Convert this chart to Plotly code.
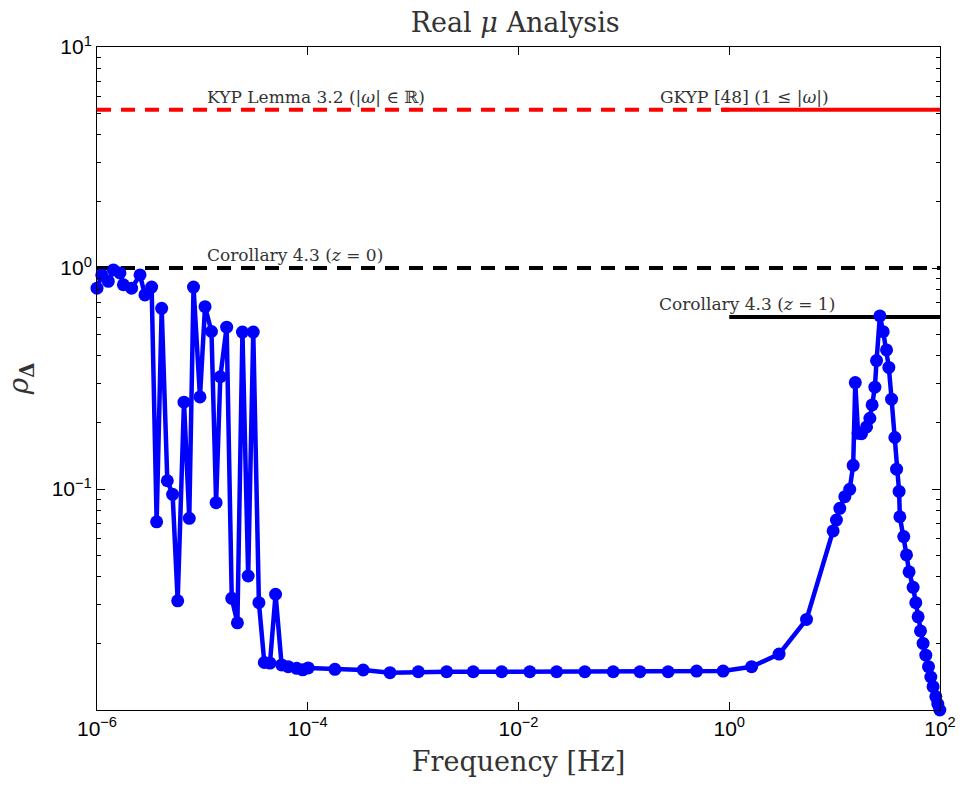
import numpy as np
import plotly.graph_objects as go

# Frequency [Hz] and rho_Delta values
freq = [1.0e-6, 1.11e-6, 1.28e-6, 1.43e-6, 1.65e-6, 1.78e-6, 2.13e-6, 2.56e-6, 2.85e-6, 3.30e-6,
        3.68e-6, 4.11e-6, 4.65e-6, 5.22e-6, 5.83e-6, 6.69e-6, 7.51e-6, 8.24e-6, 9.49e-6, 1.06e-5,
        1.22e-5, 1.35e-5, 1.48e-5, 1.70e-5, 1.90e-5, 2.15e-5, 2.40e-5, 2.72e-5, 3.04e-5, 3.44e-5,
        3.87e-5, 4.38e-5, 4.95e-5, 5.65e-5, 6.53e-5, 7.85e-5, 8.95e-5, 1.01e-4,
        1.81e-4, 3.36e-4, 6.03e-4, 1.12e-3, 2.08e-3, 3.72e-3, 6.92e-3, 1.28e-2, 2.30e-2, 4.26e-2,
        7.92e-2, 0.142, 0.263, 0.490, 0.875, 1.63, 2.97, 5.41,
        9.68, 10.4, 11.2, 12.5, 13.9, 15.0, 15.7, 16.7, 18.0, 20.1, 21.6, 22.7, 24.1, 25.0,
        26.9, 28.9, 31.1, 32.7, 34.7, 37.3, 38.7, 40.9, 41.6, 45.3, 48.1, 50.9, 55.6, 58.9,
        62.0, 65.3, 69.1, 73.3, 77.8, 81.8, 86.0, 91.3, 95.3, 99.6]
rho = [0.81, 0.93, 0.87, 0.98, 0.95, 0.84, 0.81, 0.93, 0.755, 0.82,
       0.071, 0.657, 0.109, 0.0946, 0.0312, 0.247, 0.0737, 0.82, 0.261, 0.668,
       0.516, 0.0867, 0.322, 0.54, 0.032, 0.0248, 0.513, 0.0404, 0.513, 0.0306,
       0.0164, 0.0163, 0.0334, 0.0160, 0.0157, 0.01544, 0.0152, 0.0155,
       0.01528, 0.01517, 0.01475, 0.0149, 0.0149, 0.0149, 0.0149, 0.0149, 0.0149, 0.0149,
       0.0149, 0.0149, 0.0149, 0.0150, 0.0150, 0.0157, 0.0179, 0.0257,
       0.0646, 0.0724, 0.0818, 0.0923, 0.0997, 0.128, 0.303, 0.1787, 0.178, 0.191, 0.209, 0.240, 0.289, 0.381,
       0.607, 0.515, 0.426, 0.355, 0.255, 0.171, 0.123, 0.0975, 0.0749, 0.0609, 0.0503, 0.0422, 0.0359, 0.0306,
       0.0264, 0.0228, 0.0200, 0.0177, 0.0157, 0.0141, 0.01275, 0.0115, 0.01064, 0.0100]

# Bound lines
kyp_x, kyp_y = [1e-6, 1.0], [5.2, 5.2]
gkyp_x, gkyp_y = [0.85, 100], [5.2, 5.2]
cor0_x, cor0_y = [1e-6, 100], [1.0, 1.0]
cor1_x, cor1_y = [1.0, 100], [0.6, 0.6]

x_tickvals = [1e-6, 1e-4, 1e-2, 1, 100]
x_ticktext = ["10<sup>−6</sup>", "10<sup>−4</sup>", "10<sup>−2</sup>", "10<sup>0</sup>", "10<sup>2</sup>"]
y_tickvals = [0.1, 1, 10]
y_ticktext = ["10<sup>−1</sup>", "10<sup>0</sup>", "10<sup>1</sup>"]

serif = "DejaVu Serif, serif"
sans = "Liberation Sans, Arial, sans-serif"

fig = go.Figure()
fig.add_trace(go.Scatter(x=kyp_x, y=kyp_y, mode="lines",
                         line=dict(color="#ff0000", width=4, dash="14px,10px"), showlegend=False))
fig.add_trace(go.Scatter(x=gkyp_x, y=gkyp_y, mode="lines",
                         line=dict(color="#ff0000", width=4), showlegend=False))
fig.add_trace(go.Scatter(x=cor0_x, y=cor0_y, mode="lines",
                         line=dict(color="#000000", width=4, dash="14px,10px"), showlegend=False))
fig.add_trace(go.Scatter(x=cor1_x, y=cor1_y, mode="lines",
                         line=dict(color="#000000", width=4), showlegend=False))
fig.add_trace(go.Scatter(x=freq, y=rho, mode="lines+markers", cliponaxis=False,
                         line=dict(color="#0000ff", width=4.5),
                         marker=dict(color="#0000ff", size=13),
                         showlegend=False))

ann_font = dict(family=serif, size=17, color="#333333")
annotations = [
    dict(x=np.log10(1.06e-5), y=np.log10(5.2), text="KYP Lemma 3.2 (|<i>ω</i>| ∈ ℝ)"),
    dict(x=np.log10(0.21), y=np.log10(5.2), text="GKYP [48] (1 ≤ |<i>ω</i>|)"),
    dict(x=np.log10(1.06e-5), y=np.log10(1.0), text="Corollary 4.3 (<i>z</i> = 0)"),
    dict(x=np.log10(0.205), y=np.log10(0.6), text="Corollary 4.3 (<i>z</i> = 1)"),
]
for a in annotations:
    a.update(xref="x", yref="y", xanchor="left", yanchor="bottom", showarrow=False,
             font=ann_font, yshift=1)

fig.update_layout(
    width=963, height=800,
    margin=dict(l=97, r=23, t=47, b=90),
    paper_bgcolor="white", plot_bgcolor="white",
    title=dict(text="Real <i>μ</i> Analysis", x=0.535, xanchor="center", y=0.972, yanchor="middle",
               font=dict(family=serif, size=27, color="#333333")),
    annotations=annotations,
    xaxis=dict(type="log", range=[-6, 2], showgrid=False, zeroline=False, automargin=False,
               showline=True, linecolor="black", linewidth=1, mirror="allticks",
               ticks="inside", ticklen=8, tickcolor="black",
               tickvals=x_tickvals, ticktext=x_ticktext,
               tickfont=dict(family=sans, size=21, color="black"),
               title=dict(text="Frequency [Hz]", font=dict(family=serif, size=27, color="#333333"),
                          standoff=12)),
    yaxis=dict(type="log", range=[-2, 1], showgrid=False, zeroline=False, automargin=False,
               showline=True, linecolor="black", linewidth=1, mirror="allticks",
               ticks="inside", ticklen=8, tickcolor="black",
               tickvals=y_tickvals, ticktext=y_ticktext,
               tickfont=dict(family=sans, size=21, color="black"),
               minor=dict(ticks="inside", ticklen=4, tickcolor="black", dtick="D1", showgrid=False),
               title=dict(text="<i>ρ</i><sub><b>Δ</b></sub>", font=dict(family=serif, size=28, color="#333333"),
                          standoff=14)),
)

fig.write_html("out.html")
